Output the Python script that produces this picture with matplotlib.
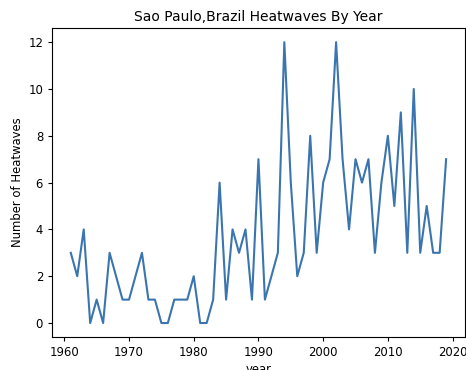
import matplotlib
matplotlib.use("Agg")
import matplotlib.pyplot as plt

years = list(range(1961, 2020))
heatwaves = [3, 2, 4, 0, 1, 0, 3, 2, 1, 1,
             2, 3, 1, 1, 0, 0, 1, 1, 1, 2,
             0, 0, 1, 6, 1, 4, 3, 4, 1, 7,
             1, 2, 3, 12, 6, 2, 3, 8, 3, 6,
             7, 12, 7, 4, 7, 6, 7, 3, 6, 8,
             5, 9, 3, 10, 3, 5, 3, 3, 7]

# reference looks like a default figure saved at a lower dpi
plt.rcParams["font.size"] = 8.35
plt.rcParams["axes.titlesize"] = 10
plt.rcParams["xtick.major.size"] = 2.9
plt.rcParams["ytick.major.size"] = 2.9
plt.rcParams["axes.linewidth"] = 0.8

fig = plt.figure(figsize=(4.66, 3.70), dpi=100)
ax = fig.add_axes([0.1116, 0.089, 0.886, 0.835])

ax.plot(years, heatwaves, color="#3a75af", linewidth=1.5)

ax.set_title("Sao Paulo,Brazil Heatwaves By Year", pad=5)
ax.set_xlabel("year", labelpad=3)
ax.set_ylabel("Number of Heatwaves", labelpad=3)

fig.savefig("out.png", dpi=100)
